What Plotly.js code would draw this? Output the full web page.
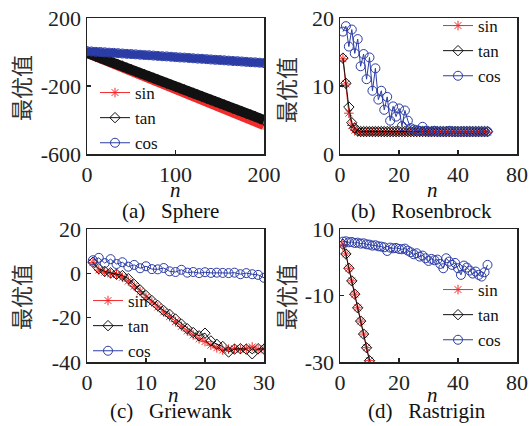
<!DOCTYPE html>
<html>
<head>
<meta charset="utf-8">
<script src="https://cdn.plot.ly/plotly-3.0.1.min.js"></script>
<style>html,body{margin:0;padding:0;background:#fff;}#chart{width:531px;height:426px;}</style>
</head>
<body>
<div id="chart"></div>
<script>
// ---------- (a) Sphere ----------
const nA = [0,5,10,15,20,25,30,35,40,45,50,55,60,65,70,75,80,85,90,95,100,105,110,115,120,125,130,135,140,145,150,155,160,165,170,175,180,185,190,195,200];
const sphereSin = [-5,-16,-26,-37,-48,-58,-69,-79,-90,-101,-111,-122,-133,-143,-154,-164,-175,-186,-196,-207,-218,-228,-239,-249,-260,-271,-281,-292,-303,-313,-324,-334,-345,-356,-366,-377,-388,-398,-409,-419,-430];
const sphereTan = [-5,-15,-25,-35,-44,-54,-64,-74,-84,-94,-104,-114,-124,-133,-143,-153,-163,-173,-183,-193,-203,-212,-222,-232,-242,-252,-262,-272,-282,-291,-301,-311,-321,-331,-341,-351,-361,-370,-380,-390,-400];
const sphereCos = [5,3,1,0,-2,-4,-5,-7,-9,-11,-12,-14,-16,-18,-19,-21,-23,-25,-26,-28,-30,-32,-33,-35,-37,-39,-40,-42,-44,-46,-47,-49,-51,-53,-54,-56,-58,-60,-61,-63,-65];

// ---------- (b) Rosenbrock ----------
const nB = [1,2,3,4,5,6,7,8,9,10,11,12,13,14,15,16,17,18,19,20,21,22,23,24,25,26,27,28,29,30,31,32,33,34,35,36,37,38,39,40,41,42,43,44,45,46,47,48,49,50];
const rosenSin = [14.0,10.3,6.0,4.2,3.5,3.2,3.2,3.2,3.2,3.2,3.2,3.2,3.2,3.2,3.2,3.2,3.2,3.2,3.2,3.2,3.2,3.2,3.2,3.2,3.2,3.2,3.2,3.2,3.2,3.2,3.2,3.2,3.2,3.2,3.2,3.2,3.2,3.2,3.2,3.2,3.2,3.2,3.2,3.2,3.2,3.2,3.2,3.2,3.2,3.2];
const rosenTan = [14.1,10.4,6.9,4.6,3.8,3.4,3.3,3.3,3.3,3.3,3.3,3.3,3.3,3.3,3.3,3.3,3.3,3.3,3.3,3.3,3.3,3.3,3.3,3.3,3.3,3.3,3.3,3.3,3.3,3.3,3.3,3.3,3.3,3.3,3.3,3.3,3.3,3.3,3.3,3.3,3.3,3.3,3.3,3.3,3.3,3.3,3.3,3.3,3.3,3.3];
const rosenCos = [18.0,18.8,15.8,18.3,14.8,16.9,12.9,14.7,11.0,14.2,9.3,12.6,8.0,9.3,6.5,8.4,4.9,7.0,5.5,6.7,4.1,6.4,4.9,3.8,3.6,3.5,3.4,4.0,3.4,3.3,3.3,3.4,3.3,3.3,3.3,3.3,3.4,3.3,3.3,3.3,3.3,3.3,3.3,3.3,3.3,3.3,3.3,3.3,3.3,3.3];

// ---------- (c) Griewank ----------
const nC = [1,2,3,4,5,6,7,8,9,10,11,12,13,14,15,16,17,18,19,20,21,22,23,24,25,26,27,28,29,30];
const griewSin = [4.8,1.5,0.5,-0.2,-0.6,-1.8,-3.5,-5.8,-8.2,-10.8,-13.0,-15.2,-17.4,-19.5,-21.8,-23.9,-26.0,-27.8,-29.5,-30.8,-32.4,-33.6,-34.6,-34.2,-34.0,-34.3,-34.0,-33.2,-34.4,-34.0];
const griewTan = [5.0,2.1,0.9,0.2,-0.4,-1.0,-2.4,-5.0,-7.5,-10.0,-12.3,-14.5,-16.8,-18.5,-20.6,-22.9,-25.0,-26.7,-28.2,-27.0,-30.5,-32.0,-33.0,-35.5,-34.2,-34.0,-34.2,-36.3,-34.0,-34.2];
const griewCos = [5.9,7.0,4.6,6.4,4.2,5.0,3.0,3.8,2.3,3.2,1.9,1.8,2.4,0.9,0.6,1.6,0.3,0.6,0.1,0.5,0.2,0.3,0.2,0.1,0.3,-0.4,0.1,-0.4,-0.7,-2.0];

// ---------- (d) Rastrigin ----------
const nD = [1,2,3,4,5,6,7,8,9,10];
const nDcos = [1,2,3,4,5,6,7,8,9,10,11,12,13,14,15,16,17,18,19,20,21,22,23,24,25,26,27,28,29,30,31,32,33,34,35,36,37,38,39,40,41,42,43,44,45,46,47,48,49,50];
const rastSin = [5.4,2.5,-1.8,-5.6,-9.6,-13.7,-17.7,-21.6,-25.7,-29.6];
const rastTan = [5.4,2.5,-1.8,-5.6,-9.6,-13.7,-17.7,-21.6,-25.7,-29.6];
const rastCos = [6.2,6.3,6.0,6.1,5.8,5.9,5.6,5.7,5.4,5.3,5.0,5.1,4.8,4.7,4.5,3.4,4.4,4.2,4.3,4.0,3.9,4.1,3.5,3.0,2.4,2.7,1.7,2.0,1.2,0.4,1.0,0.6,0.8,-0.5,-1.8,1.2,0.2,-0.8,-0.2,-1.8,-3.8,-1.0,-1.6,-2.5,-3.4,-2.8,-3.8,-4.3,-3.0,-0.8];

// ---------- axis ticks ----------
const tickA_x = [0,100,200], tickA_xt = ['0','100','200'];
const tickA_y = [200,-200,-600], tickA_yt = ['200','-200','-600'];
const tickB_x = [0,20,40,60], tickB_xt = ['0','20','40','80'];
const tickB_y = [0,10,20], tickB_yt = ['0','10','20'];
const tickC_x = [0,10,20,30], tickC_xt = ['0','10','20','30'];
const tickC_y = [20,0,-20,-40], tickC_yt = ['20','0','-20','-40'];
const tickD_x = [0,20,40,60], tickD_xt = ['0','20','40','80'];
const tickD_y = [10,-10,-30], tickD_yt = ['10','-10','-30'];

const seriesNames = ['sin','tan','cos'];
const captions = ['(a)\u00A0\u00A0\u00A0Sphere','(b)\u00A0\u00A0\u00A0Rosenbrock','(c)\u00A0\u00A0\u00A0Griewank','(d)\u00A0\u00A0\u00A0Rastrigin'];
const yTitle = '最优值';
const xTitle = '<i>n</i>';

const RED = '#f22b2b', BLACK = '#111111', BLUE = '#2b3ca6';
const W = 531, H = 426;
const px = v => v / W;
const py = v => 1 - v / H;
const SERIF = 'Liberation Serif, Times New Roman, serif';
const CJK = 'Noto Sans CJK SC';

const styles = [
  {color: RED, symbol: 'asterisk-open', size: 8},
  {color: BLACK, symbol: 'diamond-open', size: 8},
  {color: BLUE, symbol: 'circle-open', size: 9}
];

function mk(x, y, k, xa, ya, leg) {
  const s = styles[k];
  return {
    x: x, y: y, xaxis: xa, yaxis: ya, type: 'scatter', mode: 'lines+markers',
    name: seriesNames[k], legend: leg,
    line: {color: s.color, width: 1},
    marker: {color: s.color, symbol: s.symbol, size: s.size, line: {color: s.color, width: 1}},
    cliponaxis: true
  };
}
// dense bands under the Sphere markers (same data, thick line, no legend entry)
function band(x, y, k, w) {
  return {x: x, y: y, xaxis: 'x', yaxis: 'y', type: 'scatter', mode: 'lines',
    showlegend: false, hoverinfo: 'skip',
    line: {color: styles[k].color, width: w}};
}

const data = [
  band(nA, sphereSin, 0, 10),
  mk(nA, sphereSin, 0, 'x', 'y', 'legend'),
  band(nA, sphereTan, 1, 10),
  mk(nA, sphereTan, 1, 'x', 'y', 'legend'),
  band(nA, sphereCos, 2, 8),
  mk(nA, sphereCos, 2, 'x', 'y', 'legend'),
  mk(nB, rosenSin, 0, 'x2', 'y2', 'legend2'),
  mk(nB, rosenTan, 1, 'x2', 'y2', 'legend2'),
  mk(nB, rosenCos, 2, 'x2', 'y2', 'legend2'),
  mk(nC, griewSin, 0, 'x3', 'y3', 'legend3'),
  mk(nC, griewTan, 1, 'x3', 'y3', 'legend3'),
  mk(nC, griewCos, 2, 'x3', 'y3', 'legend3'),
  mk(nD, rastSin, 0, 'x4', 'y4', 'legend4'),
  mk(nD, rastTan, 1, 'x4', 'y4', 'legend4'),
  mk(nDcos, rastCos, 2, 'x4', 'y4', 'legend4')
];

const tickFont = {family: SERIF, size: 22, color: '#222'};
function xax(domain, range, tv, tt, anchor) {
  return {domain: domain, range: range, tickvals: tv, ticktext: tt, anchor: anchor,
    showline: true, mirror: true, linecolor: '#222', linewidth: 1.5,
    ticks: 'inside', ticklen: 4, tickwidth: 1.2, tickcolor: '#222',
    showgrid: false, zeroline: false, tickfont: tickFont, fixedrange: true};
}
const colL = [px(87), px(264)], colR = [px(340), px(517)];
const rowT = [py(154), py(18)], rowB = [py(362), py(229)];

const legFont = {family: SERIF, size: 17, color: '#111'};
function leg(xp, yp) {
  return {x: px(xp), y: py(yp), xanchor: 'left', yanchor: 'top', bgcolor: 'rgba(0,0,0,0)',
    borderwidth: 0, font: legFont, itemwidth: 30, tracegroupgap: 0};
}

function ann(text, x, y, opts) {
  return Object.assign({text: text, x: px(x), y: py(y), xref: 'paper', yref: 'paper',
    showarrow: false, xanchor: 'center', yanchor: 'middle',
    font: {family: SERIF, size: 21, color: '#111'}}, opts || {});
}
const cjkFont = {family: CJK, size: 22, color: '#333'};

const annotations = [
  ann(yTitle, 20, 88, {textangle: -90, font: cjkFont}),
  ann(yTitle, 285, 90, {textangle: -90, font: cjkFont}),
  ann(yTitle, 20, 297, {textangle: -90, font: cjkFont}),
  ann(yTitle, 285, 297, {textangle: -90, font: cjkFont}),
  ann(xTitle, 175, 190),
  ann(xTitle, 432, 190),
  ann(xTitle, 173, 395),
  ann(xTitle, 432, 395),
  ann(captions[0], 170, 211),
  ann(captions[1], 421, 211),
  ann(captions[2], 171, 411),
  ann(captions[3], 427, 411)
];

const layout = {
  width: W, height: H,
  margin: {l: 0, r: 0, t: 0, b: 0},
  paper_bgcolor: '#fff', plot_bgcolor: '#fff',
  font: {family: SERIF},
  showlegend: true,
  xaxis: xax(colL, [0, 200], tickA_x, tickA_xt, 'y'),
  yaxis: xax(rowT, [-600, 200], tickA_y, tickA_yt, 'x'),
  xaxis2: xax(colR, [0, 60], tickB_x, tickB_xt, 'y2'),
  yaxis2: xax(rowT, [0, 20], tickB_y, tickB_yt, 'x2'),
  xaxis3: xax(colL, [0, 30], tickC_x, tickC_xt, 'y3'),
  yaxis3: xax(rowB, [-40, 20], tickC_y, tickC_yt, 'x3'),
  xaxis4: xax(colR, [0, 60], tickD_x, tickD_xt, 'y4'),
  yaxis4: xax(rowB, [-30, 10], tickD_y, tickD_yt, 'x4'),
  legend: leg(95, 75),
  legend2: leg(438, 8),
  legend3: leg(88, 283),
  legend4: leg(438, 272),
  annotations: annotations
};

Plotly.newPlot('chart', data, layout, {staticPlot: true, displayModeBar: false});
</script>
</body>
</html>
